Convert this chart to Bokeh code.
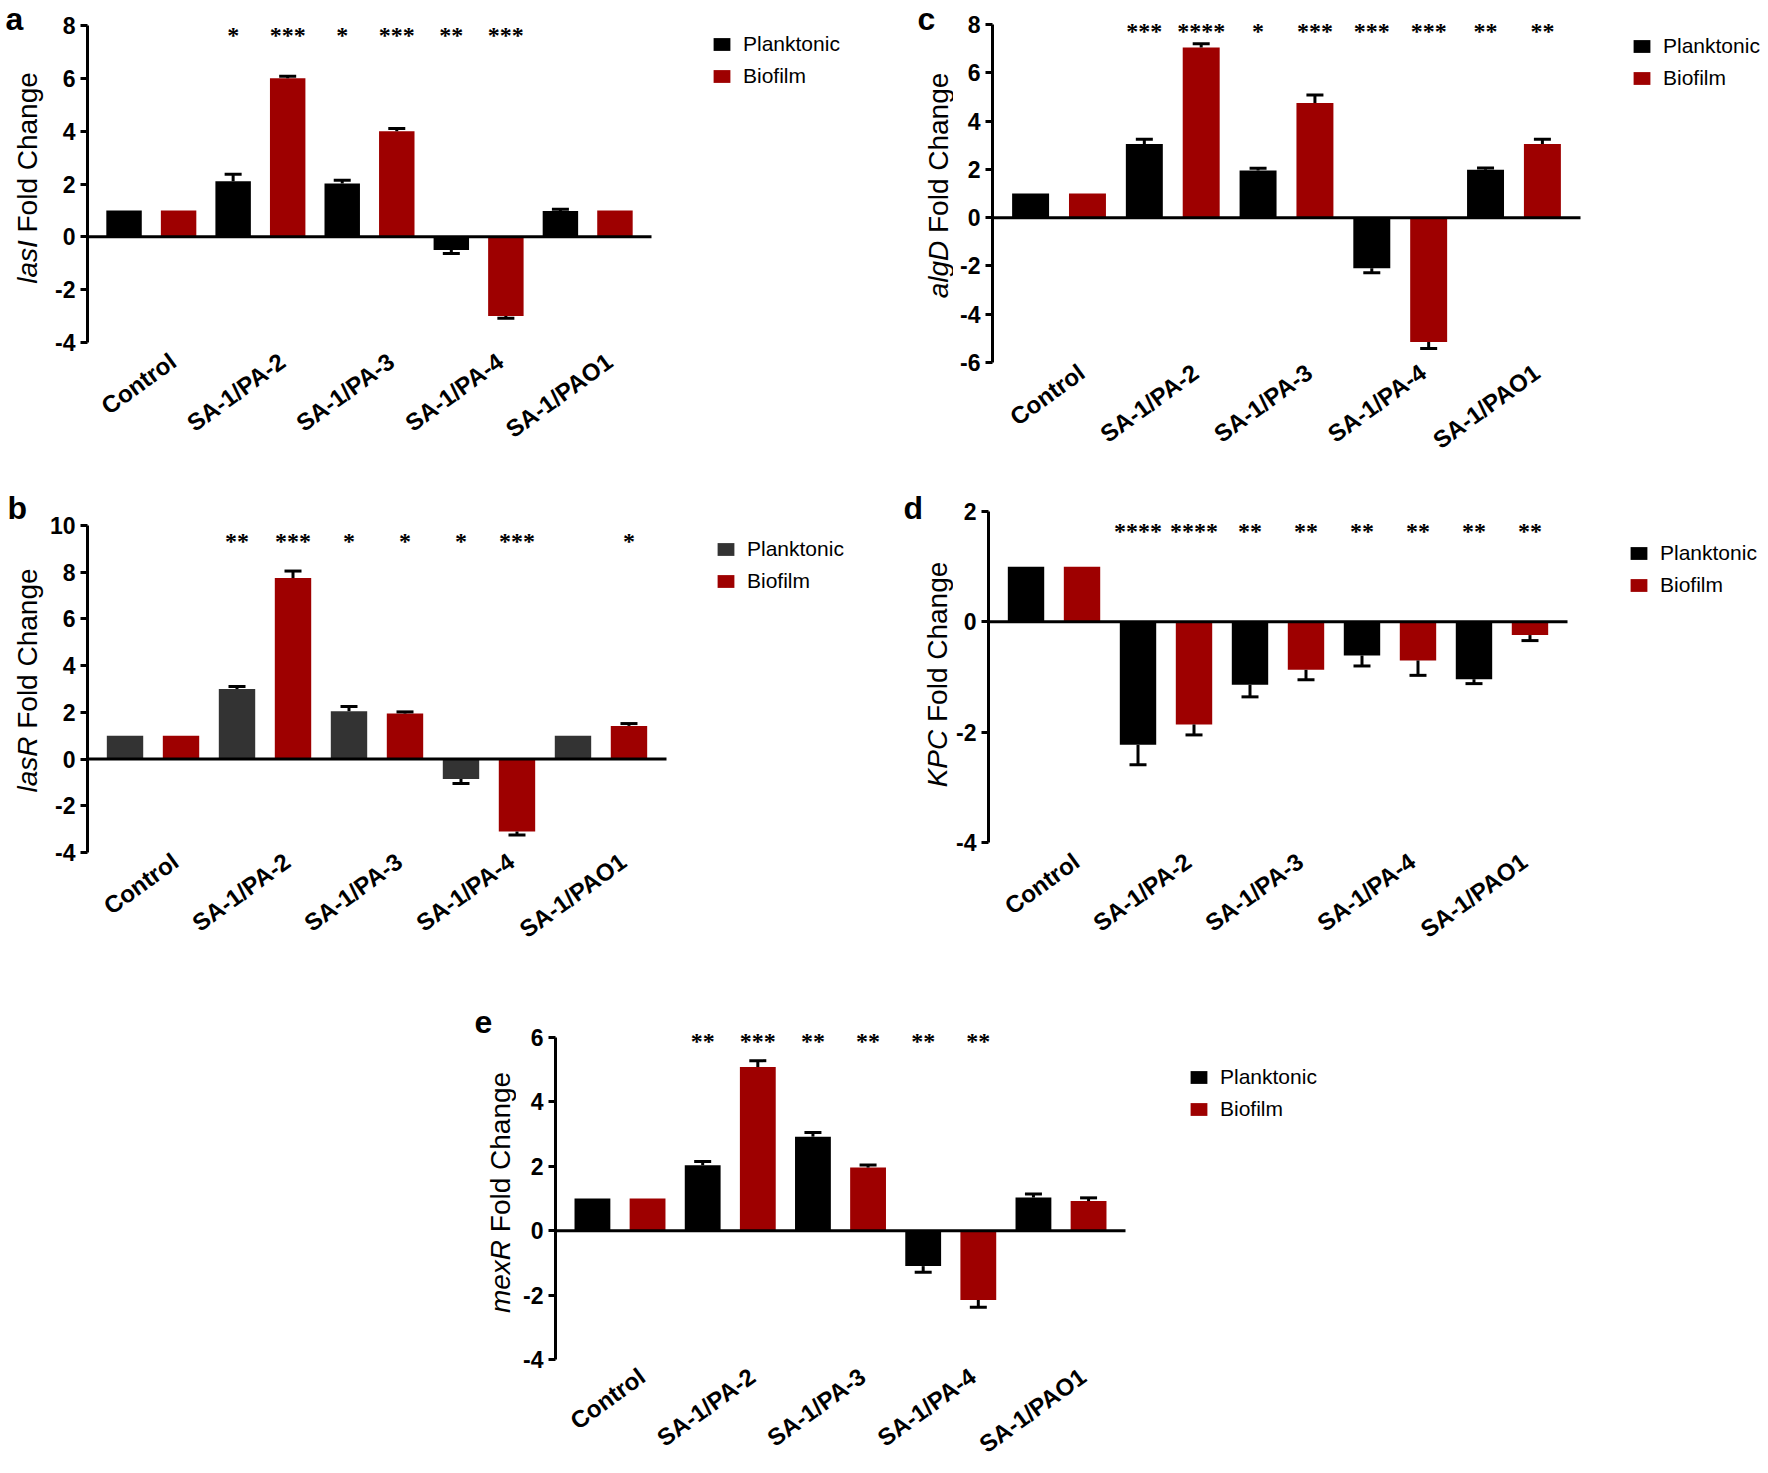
import math
from bokeh.plotting import figure
from bokeh.models import (ColumnDataSource, FixedTicker, Whisker, TeeHead,
                          Legend, LegendItem, Label, LabelSet, Range1d, Spacer)
from bokeh.layouts import row, column
from bokeh.embed import file_html
from bokeh.resources import INLINE

# ---------------- data ----------------
groups = ["Control", "SA-1/PA-2", "SA-1/PA-3", "SA-1/PA-4", "SA-1/PAO1"]
series = ["Planktonic", "Biofilm"]

# a: lasI
lasI_plank = [1.0, 2.1, 2.02, -0.5, 0.98]
lasI_plank_err = [0.0, 0.27, 0.12, 0.13, 0.06]
lasI_bio = [1.0, 6.0, 4.0, -3.0, 1.0]
lasI_bio_err = [0.0, 0.08, 0.1, 0.08, 0.0]
lasI_stars_plank = ["", "*", "*", "**", ""]
lasI_stars_bio = ["", "***", "***", "***", ""]
lasI_yticks = [-4, -2, 0, 2, 4, 6, 8]

# b: lasR
lasR_plank = [1.0, 3.0, 2.05, -0.85, 1.0]
lasR_plank_err = [0.0, 0.11, 0.2, 0.2, 0.0]
lasR_bio = [1.0, 7.75, 1.95, -3.1, 1.42]
lasR_bio_err = [0.0, 0.3, 0.07, 0.15, 0.1]
lasR_stars_plank = ["", "**", "*", "*", ""]
lasR_stars_bio = ["", "***", "*", "***", "*"]
lasR_yticks = [-4, -2, 0, 2, 4, 6, 8, 10]

# c: algD
algD_plank = [1.0, 3.05, 1.95, -2.1, 1.98]
algD_plank_err = [0.0, 0.2, 0.1, 0.18, 0.08]
algD_bio = [1.0, 7.05, 4.75, -5.15, 3.05]
algD_bio_err = [0.0, 0.15, 0.33, 0.27, 0.2]
algD_stars_plank = ["", "***", "*", "***", "**"]
algD_stars_bio = ["", "****", "***", "***", "**"]
algD_yticks = [-6, -4, -2, 0, 2, 4, 6, 8]

# d: KPC
KPC_plank = [1.0, -2.23, -1.14, -0.61, -1.04]
KPC_plank_err = [0.0, 0.36, 0.22, 0.19, 0.08]
KPC_bio = [1.0, -1.86, -0.87, -0.70, -0.24]
KPC_bio_err = [0.0, 0.19, 0.18, 0.27, 0.1]
KPC_stars_plank = ["", "****", "**", "**", "**"]
KPC_stars_bio = ["", "****", "**", "**", "**"]
KPC_yticks = [-4, -2, 0, 2]

# e: mexR
mexR_plank = [1.0, 2.03, 2.92, -1.1, 1.03]
mexR_plank_err = [0.0, 0.12, 0.13, 0.19, 0.11]
mexR_bio = [1.0, 5.08, 1.96, -2.15, 0.92]
mexR_bio_err = [0.0, 0.2, 0.08, 0.23, 0.1]
mexR_stars_plank = ["", "**", "**", "**", ""]
mexR_stars_bio = ["", "***", "**", "**", ""]
mexR_yticks = [-4, -2, 0, 2, 4, 6]

RED = "#9E0000"
BLACK = "#000000"
GRAY = "#333333"
FONT = "Liberation Sans"

ARIAL = {'l': 222, 'a': 556, 's': 500, 'I': 278, 'R': 722, 'g': 556, 'D': 722,
         'K': 667, 'P': 667, 'C': 722, 'm': 833, 'e': 556, 'x': 500, ' ': 278,
         'F': 611, 'o': 556, 'd': 556, 'h': 556, 'n': 556, 'b': 611, 'c': 556}
ARIAL_BOLD = {'a': 556, 'b': 611, 'c': 556, 'd': 611, 'e': 556}


def tw(s, size, table=ARIAL):
    return sum(table.get(ch, 556) for ch in s) * size / 1000.0


def text_fig(x0, row_y, w, H, B, letter, letter_pos, gene, title_c):
    """Narrow figure whose data coordinates are page pixels; holds panel letter and y title."""
    t = figure(width=w, height=H, x_range=Range1d(x0, x0 + w), y_range=Range1d(row_y + H - B, row_y),
               output_backend="svg", toolbar_location=None, title=None,
               x_axis_type=None, y_axis_type=None)
    t.min_border_left = 0
    t.min_border_right = 0
    t.min_border_top = 0
    t.min_border_bottom = B
    t.outline_line_color = None
    t.background_fill_color = "white"
    t.border_fill_color = "white"
    ts = 28
    cx, cy = title_c
    wg = tw(gene, ts)
    wsp = tw(" ", ts)
    wf = tw("Fold Change", ts)
    total = wg + wsp + wf
    bottom = cy + total / 2.0
    t.add_layout(Label(x=cx, y=bottom - wg / 2.0, text=gene, angle=math.pi / 2, text_align="center",
                       text_baseline="middle", text_font=FONT, text_font_style="italic",
                       text_font_size=f"{ts}px", text_color="black"))
    t.add_layout(Label(x=cx, y=bottom - wg - wsp - wf / 2.0, text="Fold Change",
                       angle=math.pi / 2, text_align="center", text_baseline="middle",
                       text_font=FONT, text_font_size=f"{ts}px", text_color="black"))
    ls = 32
    lx, lb = letter_pos
    t.add_layout(Label(x=lx + tw(letter, ls, ARIAL_BOLD) / 2.0, y=lb - 0.3465 * ls, text=letter,
                       text_align="center", text_baseline="middle",
                       text_font=FONT, text_font_style="bold", text_font_size=f"{ls}px",
                       text_color="black"))
    return t


def build(plank, plank_err, bio, bio_err, st_p, st_b, yticks, pcolor, geo):
    fx, row_y, W, H, L, B = geo["fig"]
    ytop_px, ybot_px, data_right = geo["map"]
    FWd = data_right - (fx + L)          # width of the bar area
    x0, xd1 = -0.67, 9.67
    ppx = FWd / (xd1 - x0)
    x1 = x0 + (W - L) / ppx               # frame extends right to hold the legend
    ymin, ymax = yticks[0], yticks[-1]
    ppy = (ybot_px - ytop_px) / (ymax - ymin)
    frame_bottom = row_y + H - B
    y_end = ymax + (ytop_px - row_y) / ppy
    y_start = ymin - (frame_bottom - ybot_px) / ppy

    p = figure(width=W, height=H, x_range=Range1d(x0, x1), y_range=Range1d(y_start, y_end),
               output_backend="svg", toolbar_location=None, title=None)
    p.min_border_left = L
    p.min_border_top = 0
    p.min_border_right = 0
    p.min_border_bottom = B
    p.outline_line_color = None
    p.xgrid.visible = False
    p.ygrid.visible = False
    p.background_fill_color = "white"
    p.border_fill_color = "white"

    def dy(py):
        return y_end - (py - row_y) / ppy

    n = len(groups)
    xp = [2 * i for i in range(n)]
    xb = [2 * i + 1 for i in range(n)]
    sp = ColumnDataSource(dict(x=xp, top=plank, grp=groups))
    sb = ColumnDataSource(dict(x=xb, top=bio, grp=groups))
    bw = 0.65
    rp = p.vbar(x="x", top="top", bottom=0, width=bw, source=sp, fill_color=pcolor, line_color=None)
    rb = p.vbar(x="x", top="top", bottom=0, width=bw, source=sb, fill_color=RED, line_color=None)

    # zero baseline across the bar area
    p.segment(x0=[x0], y0=[0], x1=[xd1], y1=[0], line_color="black", line_width=3, level="overlay")

    # error bars (one-sided, away from zero)
    up = dict(x=[], lo=[], hi=[])
    dn = dict(x=[], lo=[], hi=[])
    for xs, vals, errs in ((xp, plank, plank_err), (xb, bio, bio_err)):
        for xx, v, e in zip(xs, vals, errs):
            if e <= 0:
                continue
            if v >= 0:
                up["x"].append(xx); up["lo"].append(v); up["hi"].append(v + e)
            else:
                dn["x"].append(xx); dn["lo"].append(v - e); dn["hi"].append(v)
    w_up = Whisker(source=ColumnDataSource(up), base="x", lower="lo", upper="hi", dimension="height",
                   line_width=3, line_color="black", level="annotation",
                   upper_head=TeeHead(size=17, line_width=3, line_color="black"), lower_head=None)
    w_dn = Whisker(source=ColumnDataSource(dn), base="x", lower="lo", upper="hi", dimension="height",
                   line_width=3, line_color="black", level="annotation",
                   lower_head=TeeHead(size=17, line_width=3, line_color="black"), upper_head=None)
    p.add_layout(w_up)
    p.add_layout(w_dn)

    # significance stars
    star_size = 24
    ys = dy(geo["star_c"] + 9.2)
    sx, stxt = [], []
    for i in range(n):
        if st_p[i]:
            sx.append(xp[i]); stxt.append(st_p[i])
        if st_b[i]:
            sx.append(xb[i]); stxt.append(st_b[i])
    ss = ColumnDataSource(dict(x=sx, y=[ys] * len(sx), t=stxt))
    p.add_layout(LabelSet(x="x", y="y", text="t", source=ss, text_align="center",
                          text_baseline="alphabetic", text_font=FONT, text_font_style="bold",
                          text_font_size=f"{star_size}px", text_color="black"))

    # axes
    xa = p.xaxis[0]
    tick_shift = 0.4
    tpos = [2 * i + 0.5 + tick_shift for i in range(n)]
    xa.ticker = FixedTicker(ticks=tpos)
    xa.major_label_overrides = {t: g for t, g in zip(tpos, groups)}
    xa.axis_line_color = None
    xa.major_tick_line_color = None
    xa.minor_tick_line_color = None
    xa.major_label_orientation = math.radians(36)
    xa.major_label_text_font = FONT
    xa.major_label_text_font_style = "bold"
    xa.major_label_text_font_size = "24px"
    xa.major_label_text_color = "black"
    xa.major_label_standoff = geo["xstand"]

    ya = p.yaxis[0]
    ya.ticker = FixedTicker(ticks=yticks)
    ya.bounds = (ymin, ymax)
    ya.major_label_overrides = {t: str(t) for t in yticks}
    ya.axis_line_width = 3
    ya.axis_line_color = "black"
    ya.major_tick_line_width = 3
    ya.major_tick_out = 7
    ya.major_tick_in = 0
    ya.minor_tick_line_color = None
    ya.major_label_text_font = FONT
    ya.major_label_text_font_style = "bold"
    ya.major_label_text_font_size = "23px"
    ya.major_label_text_color = "black"
    ya.major_label_standoff = 5

    # legend (inside the extended frame, right of the bars)
    lh = 32
    sqx, c1 = geo["legend"]
    gw, gh = 21, 16
    top_page = c1 - lh / 2.0
    bottom_page = top_page + 2 * lh
    vx = (sqx - 2) - (fx + L)
    vy = frame_bottom - bottom_page
    leg = Legend(items=[LegendItem(label=series[0], renderers=[rp]),
                        LegendItem(label=series[1], renderers=[rb])],
                 location=(vx, vy), orientation="vertical")
    leg.glyph_width = gw
    leg.glyph_height = gh
    leg.label_height = lh
    leg.label_standoff = 11
    leg.spacing = 0
    leg.padding = 0
    leg.margin = 0
    leg.border_line_color = None
    leg.background_fill_alpha = 0
    leg.label_text_font = FONT
    leg.label_text_font_size = "21px"
    leg.label_text_color = "black"
    p.add_layout(leg)
    return p


# fig=(page x, row page y, width, height, left border, bottom border)
# map=(page y of top tick, page y of bottom tick, page x where the bar area ends)
geo_a = dict(fig=(46, 0, 846, 488, 41, 126), map=(25, 342, 651), star_c=33.3,
             legend=(713, 44), xstand=-10)
geo_c = dict(fig=(953, 0, 814, 488, 39, 126), map=(24, 362, 1580), star_c=29,
             legend=(1633, 46), xstand=1)
geo_b = dict(fig=(46, 488, 846, 512, 41, 148), map=(525, 852, 666), star_c=539.3,
             legend=(717, 549), xstand=0)
geo_d = dict(fig=(953, 488, 814, 512, 35, 148), map=(511, 842, 1567), star_c=529.3,
             legend=(1630, 553), xstand=0)
geo_e = dict(fig=(516, 1000, 1251, 472, 39, 113), map=(1037, 1359, 1125), star_c=1039.3,
             legend=(1190, 1077), xstand=8)

pa = build(lasI_plank, lasI_plank_err, lasI_bio, lasI_bio_err,
           lasI_stars_plank, lasI_stars_bio, lasI_yticks, BLACK, geo_a)
pb = build(lasR_plank, lasR_plank_err, lasR_bio, lasR_bio_err,
           lasR_stars_plank, lasR_stars_bio, lasR_yticks, GRAY, geo_b)
pc = build(algD_plank, algD_plank_err, algD_bio, algD_bio_err,
           algD_stars_plank, algD_stars_bio, algD_yticks, BLACK, geo_c)
pd = build(KPC_plank, KPC_plank_err, KPC_bio, KPC_bio_err,
           KPC_stars_plank, KPC_stars_bio, KPC_yticks, BLACK, geo_d)
pe = build(mexR_plank, mexR_plank_err, mexR_bio, mexR_bio_err,
           mexR_stars_plank, mexR_stars_bio, mexR_yticks, BLACK, geo_e)

ta = text_fig(0, 0, 46, 488, 126, "a", (5, 30), "lasI", (27, 177.5))
tc = text_fig(892, 0, 61, 488, 126, "c", (917, 30), "algD", (938, 185))
tb = text_fig(0, 488, 46, 512, 148, "b", (7, 519), "lasR", (27, 680))
td = text_fig(892, 488, 61, 512, 148, "d", (903, 519), "KPC", (936.6, 674))
te = text_fig(450, 1000, 66, 472, 113, "e", (474, 1033), "mexR", (500, 1192))

layout = column(row(ta, pa, tc, pc),
                row(tb, pb, td, pd),
                row(Spacer(width=450, height=472), te, pe))

open("out.html", "w").write(file_html(layout, INLINE))
